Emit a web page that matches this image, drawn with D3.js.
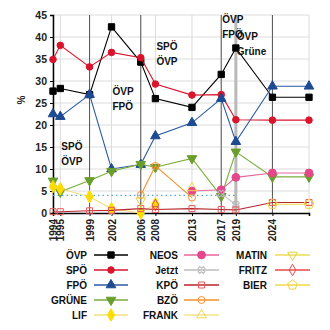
<!DOCTYPE html>
<html><head><meta charset="utf-8">
<script src="https://cdn.jsdelivr.net/npm/d3@7"></script>
<style>
html,body{margin:0;padding:0;background:#fff;}
text{font-family:"Liberation Sans",Arial,sans-serif;font-weight:bold;}
</style></head>
<body><svg id="c" width="330" height="330"></svg>
<script>
// ---- data ----
const years = [1994,1995,1999,2002,2006,2008,2013,2017,2019,2024,2029];
const tickYears = [1994,1995,1999,2002,2006,2008,2013,2017,2019,2024];
const yTicks = [0,5,10,15,20,25,30,35,40,45];
const OEVP  = [27.7,28.3,26.9,42.3,34.3,26.0,24.0,31.5,37.5,26.3,26.3];
const SPOE  = [34.9,38.1,33.2,36.5,35.3,29.3,26.8,26.9,21.2,21.1,21.1];
const FPOE  = [22.5,21.9,26.9,10.0,11.0,17.5,20.5,26.0,16.2,28.8,28.8];
const GRUENE= [7.3,4.8,7.4,9.5,11.1,10.4,12.4,3.8,13.9,8.2,8.2];
const LIF   = [6.0,5.5,3.7,1.0,0.0,2.1,null,null,null,null,null];
const NEOS  = [null,null,null,null,null,null,5.0,5.3,8.1,9.1,9.1];
const JETZT = [null,null,null,null,null,null,null,4.4,1.9,null,null];
const KPOE  = [0.3,0.3,0.5,0.6,1.0,0.8,1.0,0.8,0.7,2.4,2.4];
const BZOE  = [null,null,null,null,4.1,10.7,3.5,null,null,null,null];
const FRANK = [null,null,null,null,null,null,5.7,null,null,null,null];
const MATIN = [null,null,null,null,2.8,null,null,null,null,null,null];
const FRITZ = [null,null,null,null,null,1.8,null,null,null,null,null];
const BIER  = [null,null,null,null,null,null,null,null,null,2.0,2.0];
const threshold = 4;
const thresholdYears = [1994,2019];
const govLines = [1999,2006,2017,2024];
const govLineThick = [2019];
const annotations = [
  {year:1995, value:15.2, lines:["SPÖ","ÖVP"]},
  {year:2002, value:27.7, lines:["ÖVP","FPÖ"]},
  {year:2008, value:38.0, lines:["SPÖ","ÖVP"]},
  {year:2017, value:44.1, lines:["ÖVP","FPÖ"]},
  {year:2019, value:40.2, lines:["ÖVP","Grüne"]}
];

const symbolPentagon = {draw(ctx,size){
  const r = Math.sqrt(size/2.378);
  for(let i=0;i<5;i++){const a=-Math.PI/2+i*2*Math.PI/5;
    const px=r*Math.cos(a), py=r*Math.sin(a);
    if(i===0)ctx.moveTo(px,py);else ctx.lineTo(px,py);}
  ctx.closePath();}};
const symbolDown = {draw(ctx,size){
  const s=Math.sqrt(size/0.433), h=s*0.866;
  ctx.moveTo(-s/2,-h/3); ctx.lineTo(s/2,-h/3); ctx.lineTo(0,2*h/3); ctx.closePath();}};

const series = [
 {name:"ÖVP",  v:OEVP,  line:"#000000", mk:"#000000", sym:d3.symbolSquare, size:40, fill:true},
 {name:"SPÖ",  v:SPOE,  line:"#d9142b", mk:"#d9142b", sym:d3.symbolCircle, size:34, fill:true},
 {name:"FPÖ",  v:FPOE,  line:"#2a5aa0", mk:"#1d4a92", sym:d3.symbolTriangle, size:40, fill:true},
 {name:"GRÜNE",v:GRUENE,line:"#7aae3a", mk:"#6a9e2c", sym:symbolDown, size:40, fill:true},
 {name:"LIF",  v:LIF,   line:"#f3e07a", mk:"#ffdc00", sym:d3.symbolDiamond, size:45, fill:true},
 {name:"NEOS", v:NEOS,  line:"#e8669a", mk:"#e4478a", sym:d3.symbolCircle, size:48, fill:true},
 {name:"Jetzt",v:JETZT, line:"#bdbdbd", mk:"#b8b8b8", sym:d3.symbolCross, size:30, fill:false, x:true},
 {name:"KPÖ",  v:KPOE,  line:"#b8252b", mk:"#e85a5a", sym:d3.symbolSquare, size:36, fill:false},
 {name:"BZÖ",  v:BZOE,  line:"#f0922e", mk:"#f0922e", sym:d3.symbolCircle, size:38, fill:false},
 {name:"FRANK",v:FRANK, line:"#f5e38e", mk:"#f0d84a", sym:d3.symbolTriangle, size:40, fill:false},
 {name:"MATIN",v:MATIN, line:"#eedb55", mk:"#e8d040", sym:symbolDown, size:40, fill:false},
 {name:"FRITZ",v:FRITZ, line:"#e84848", mk:"#e84848", sym:d3.symbolDiamond, size:38, fill:false},
 {name:"BIER", v:BIER,  line:"#f2d84a", mk:"#f2d040", sym:symbolPentagon, size:60, fill:false}
];

const svg = d3.select("#c");
const x = d3.scaleLinear().domain([1994,2029]).range([53,309]);
const y = d3.scaleLinear().domain([0,45]).range([213,15]);

// grid
const g = svg.append("g");
g.selectAll(".hg").data(yTicks.filter(d=>d>0)).join("line")
  .attr("x1",x(1994)).attr("x2",x(2029)).attr("y1",d=>y(d)).attr("y2",d=>y(d))
  .attr("stroke","#dcdcdc").attr("stroke-width",1);
g.selectAll(".vg").data(tickYears.concat([2029])).join("line")
  .attr("x1",d=>x(d)).attr("x2",d=>x(d)).attr("y1",y(0)).attr("y2",y(45))
  .attr("stroke","#dcdcdc").attr("stroke-width",1);
g.selectAll(".gt").data(govLineThick).join("line")
  .attr("x1",d=>x(d)).attr("x2",d=>x(d)).attr("y1",y(0)).attr("y2",y(45))
  .attr("stroke","#b9b9b9").attr("stroke-width",3);
g.selectAll(".gv").data(govLines).join("line")
  .attr("x1",d=>x(d)).attr("x2",d=>x(d)).attr("y1",y(0)).attr("y2",y(45))
  .attr("stroke","#555").attr("stroke-width",1);

// axes
const yAxis = d3.axisLeft(y).tickValues(yTicks).tickSize(3).tickFormat(d3.format("d"));
const ya = svg.append("g").attr("transform",`translate(${x(1994)},0)`).call(yAxis);
ya.select(".domain").attr("stroke","#000").attr("stroke-width",1.5);
ya.selectAll("text").attr("font-size",10.5).attr("fill","#222").attr("x",-6);
const xAxis = d3.axisBottom(x).tickValues(tickYears).tickSize(3).tickFormat(d3.format("d"));
const xa = svg.append("g").attr("transform",`translate(0,${y(0)})`).call(xAxis);
xa.select(".domain").attr("stroke","#000").attr("stroke-width",1.5);
xa.selectAll("text").attr("font-size",10).attr("fill","#222")
  .attr("transform","rotate(-90)").attr("text-anchor","end")
  .attr("x",-6).attr("y",0).attr("dy","0.35em");
svg.append("text").attr("transform","translate(25,100) rotate(-90)")
  .attr("text-anchor","middle").attr("font-size",10).attr("fill","#222").text("%");

// threshold
svg.append("line").attr("x1",x(thresholdYears[0])).attr("x2",x(thresholdYears[1]))
  .attr("y1",y(threshold)).attr("y2",y(threshold))
  .attr("stroke","#58a8e0").attr("stroke-width",1.3).attr("stroke-dasharray","1.5,3");

// series
const lineGen = d3.line().defined(d=>d.v!=null).x(d=>x(d.yr)).y(d=>y(d.v));
series.forEach(s=>{
  const pts = years.map((yr,i)=>({yr, v:s.v[i]}));
  const sg = svg.append("g");
  sg.append("path").attr("d",lineGen(pts)).attr("fill","none")
    .attr("stroke",s.line).attr("stroke-width",1.1);
  sg.selectAll("path.m").data(pts.filter(d=>d.v!=null)).join("path").attr("class","m")
    .attr("transform",d=>`translate(${x(d.yr)},${y(d.v)})${s.x?" rotate(45)":""}`)
    .attr("d",d3.symbol(s.sym,s.size))
    .attr("fill",s.fill?s.mk:"none").attr("stroke",s.mk).attr("stroke-width",1);
});

// annotations
annotations.forEach(a=>{
  a.lines.forEach((t,i)=>{
    svg.append("text").attr("x",x(a.year)+1).attr("y",y(a.value)+i*15+4)
      .attr("font-size",10).attr("fill","#111").text(t);
  });
});

// legend
const cols = [{lx:87,x1:94,x2:128},{lx:178,x1:184,x2:219},{lx:267,x1:275,x2:310}];
series.forEach((s,i)=>{
  const c = i<5?0:(i<10?1:2), r = i<5?i:(i<10?i-5:i-10);
  const cy = 255 + r*15, cc = cols[c];
  svg.append("text").attr("x",cc.lx).attr("y",cy+4).attr("text-anchor","end")
    .attr("font-size",10).attr("fill","#111").text(s.name);
  svg.append("line").attr("x1",cc.x1).attr("x2",cc.x2).attr("y1",cy).attr("y2",cy)
    .attr("stroke",s.line).attr("stroke-width",1.3);
  svg.append("path").attr("transform",`translate(${(cc.x1+cc.x2)/2},${cy})${s.x?" rotate(45)":""}`)
    .attr("d",d3.symbol(s.sym,s.size))
    .attr("fill",s.fill?s.mk:"none").attr("stroke",s.mk).attr("stroke-width",1);
});
</script></body></html>
